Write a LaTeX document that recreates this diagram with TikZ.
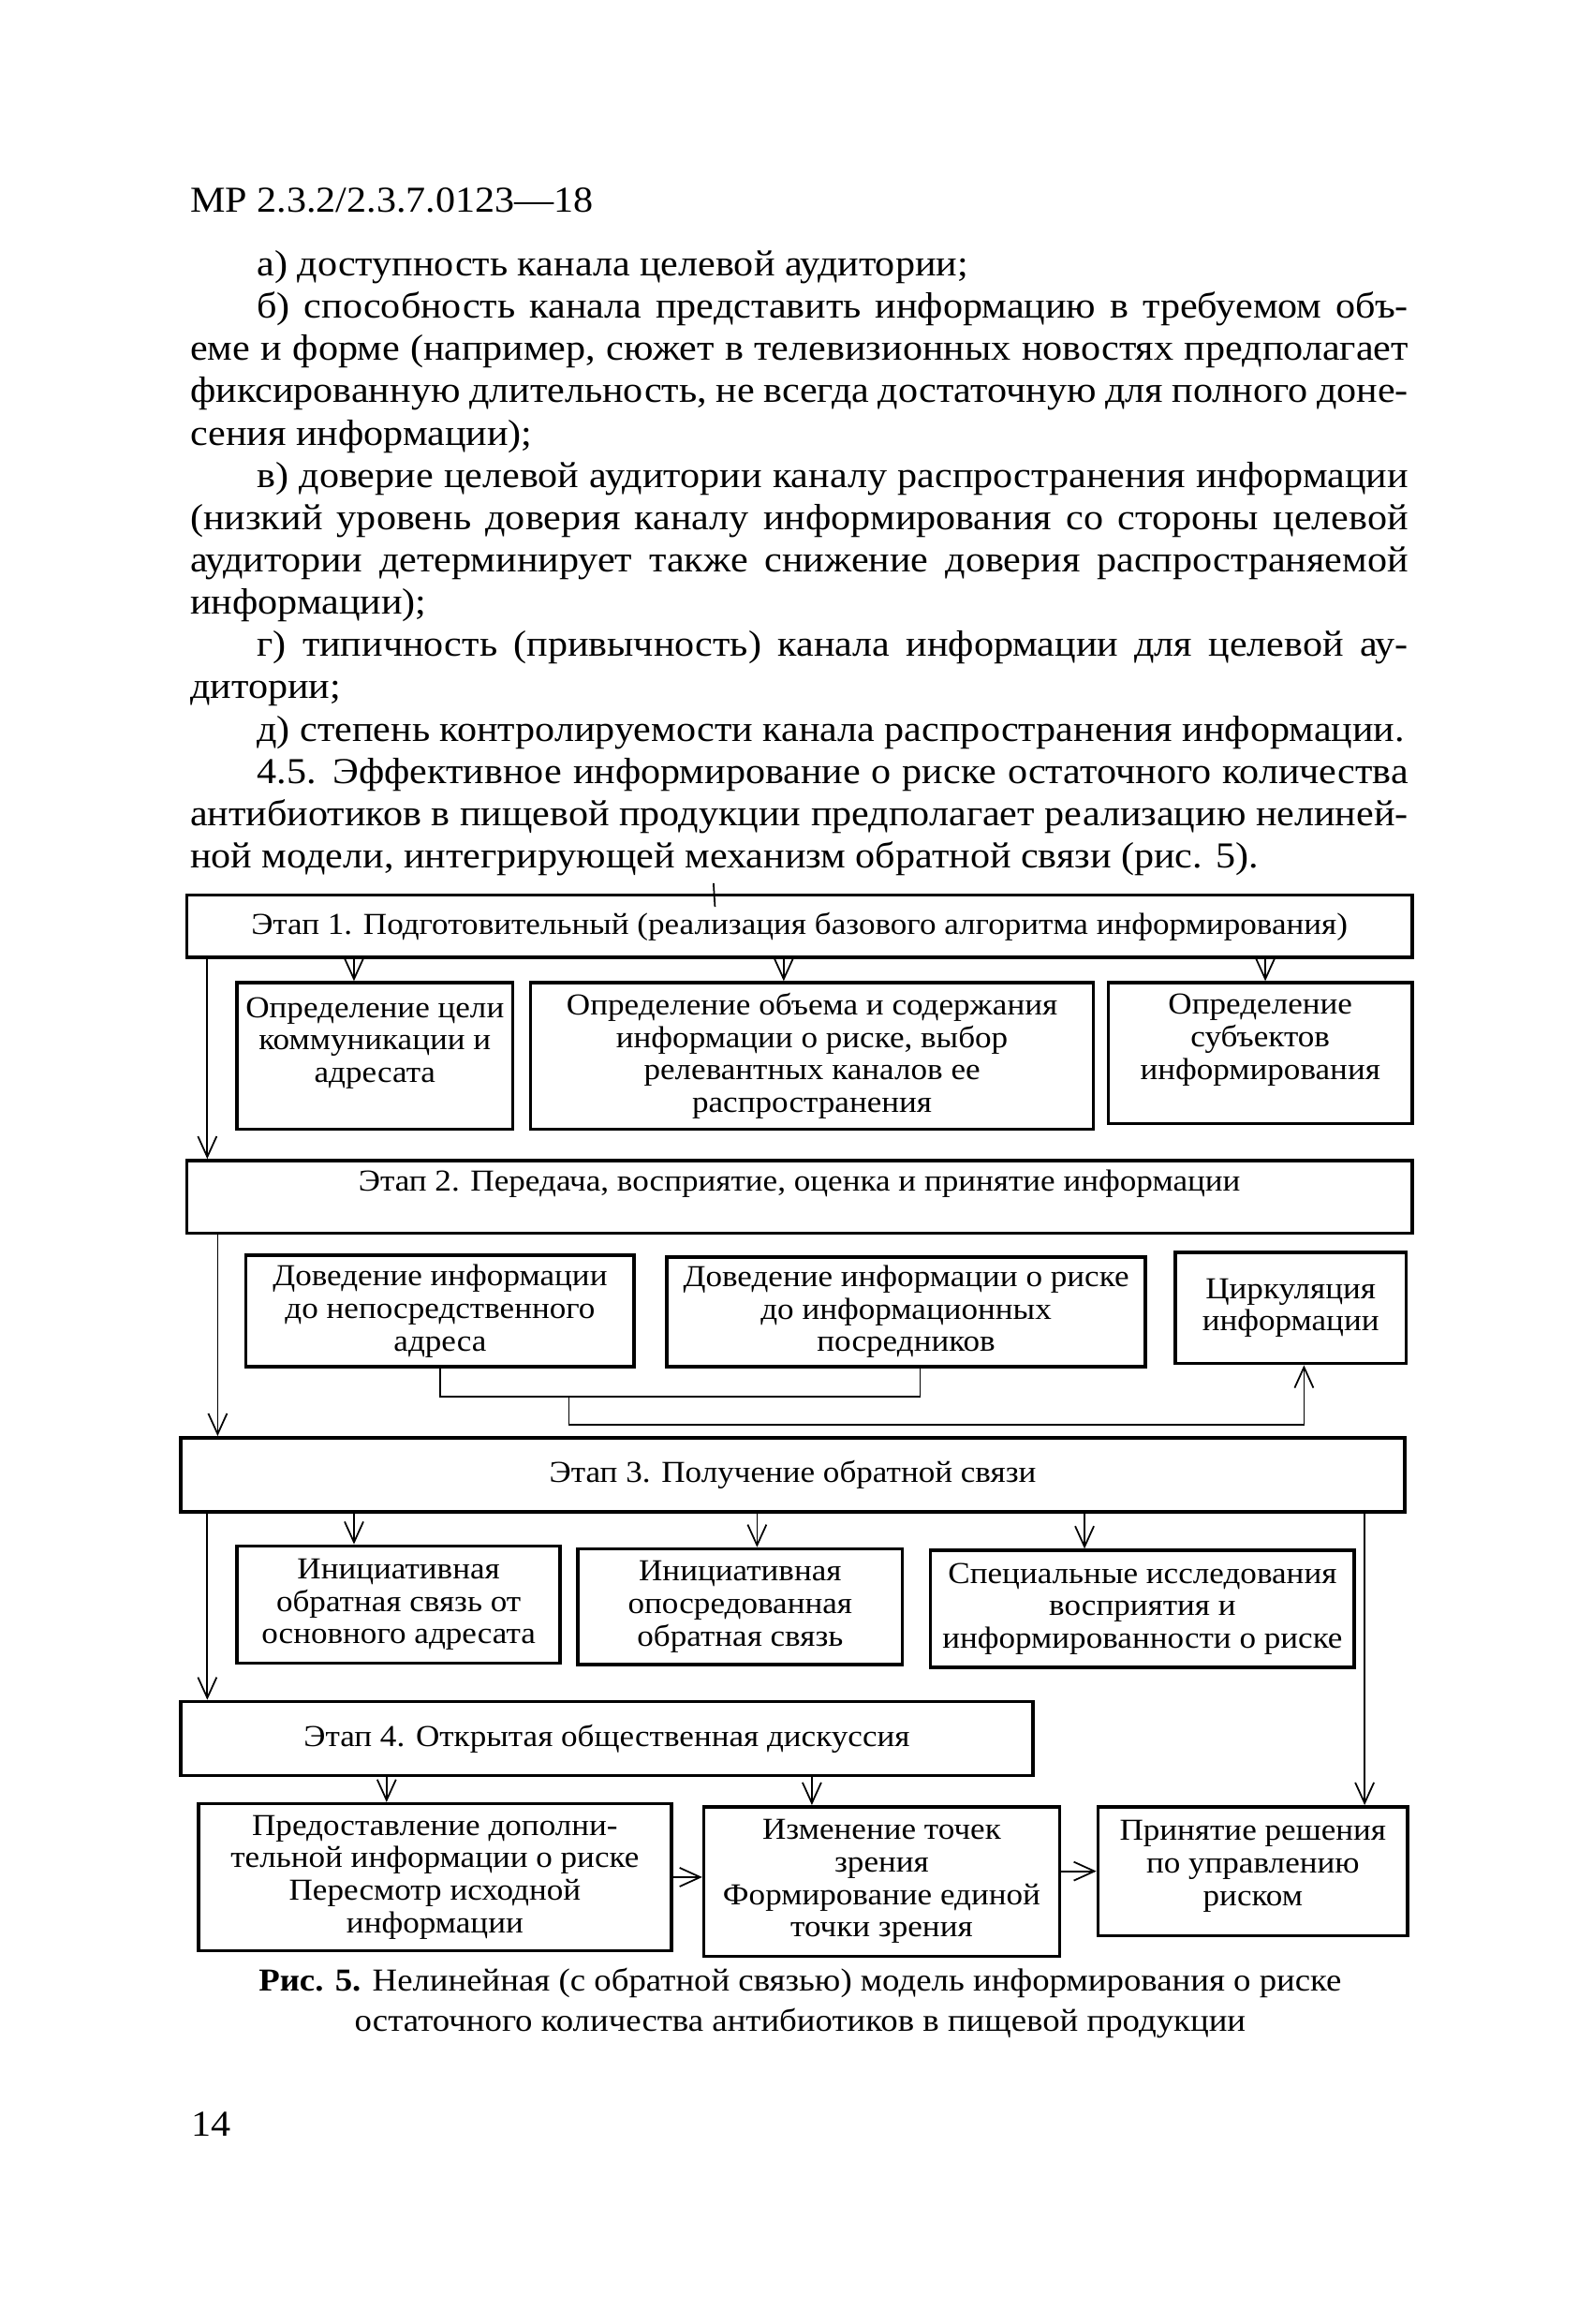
\documentclass[tikz,border=0pt]{standalone}
\usepackage{fontspec}
\setmainfont{Liberation Serif}[FakeStretch=1.08]
\usepackage{tikz}
\usetikzlibrary{arrows.meta,calc}

\newdimen\pxu \pxu=0.15823mm
\newcommand\bodyfont{\fontsize{11.1}{12.85}\selectfont}
\newcommand\boxfont{\fontsize{9.25}{9.88}\selectfont}
\newcommand\capfont{\fontsize{9.7}{12.1}\selectfont}

\begin{document}
\begin{tikzpicture}[
  x=0.15823mm, y=-0.15823mm,
  stage/.style={draw, line width=1pt, inner sep=0pt, align=center, font=\boxfont},
  sub/.style={stage},
  sz/.style 2 args={minimum width=#1\pxu, minimum height=#2\pxu},
  link/.style={line width=0.5pt},
  arr/.style={link, -{Straight Barb[length=2.2mm, width=2mm]}},
]
\fill[white] (0,0) rectangle (1075,1568);
\useasboundingbox (0,0) rectangle (1075,1568);

% page text
\node[anchor=west, inner sep=0pt, font=\bodyfont] (head) at (128,135) {МР 2.3.2/2.3.7.0123—18};
\node[anchor=north west, inner sep=0pt, text width=822\pxu, align=justify, font=\bodyfont] (body) at (128,168.5) {%
\hspace*{45\pxu}а) доступность канала целевой аудитории;\\
\hspace*{45\pxu}б) способность канала представить информацию в требуемом объ-\linebreak
еме и форме (например, сюжет в телевизионных новостях предполагает\linebreak
фиксированную длительность, не всегда достаточную для полного доне-\linebreak
сения информации);\\
\hspace*{45\pxu}в) доверие целевой аудитории каналу распространения информации\linebreak
(низкий уровень доверия каналу информирования со стороны целевой\linebreak
аудитории детерминирует также снижение доверия распространяемой\linebreak
информации);\\
\hspace*{45\pxu}г) типичность (привычность) канала информации для целевой ау-\linebreak
дитории;\\
\hspace*{45\pxu}д) степень контролируемости канала распространения информации.\\
\hspace*{45\pxu}4.5. Эффективное информирование о риске остаточного количества\linebreak
антибиотиков в пищевой продукции предполагает реализацию нелиней-\linebreak
ной модели, интегрирующей механизм обратной связи (рис. 5).};

% stages and boxes
\node[stage, sz={827}{42}] (S1) at (539.5,625)
  {Этап 1. Подготовительный (реализация базового алгоритма информирования)};
\node[sub, sz={186}{99}] (B1a) at (253,712.5)
  {Определение цели\\коммуникации и\\адресата\\\mbox{}};
\node[sub, sz={380}{99}] (B1b) at (548,712.5)
  {Определение объема и содержания\\информации о риске, выбор\\релевантных каналов ее\\распространения};
\node[sub, sz={205}{95}] (B1c) at (850.5,710.5)
  {Определение\\субъектов\\информирования\\\mbox{}};

\node[stage, sz={827}{49}] (S2) at (539.5,807.5)
  {Этап 2. Передача, восприятие, оценка и принятие информации\\\mbox{}};
\node[sub, sz={262}{75}] (B2a) at (297,884.5)
  {Доведение информации\\до непосредственного\\адреса};
\node[sub, sz={323}{74}] (B2b) at (611.5,885)
  {Доведение информации о риске\\до информационных\\посредников};
\node[sub, sz={156}{75}] (B2c) at (871,882.5)
  {Циркуляция\\информации};

\node[stage, sz={826}{50}] (S3) at (535,995)
  {Этап 3. Получение обратной связи};
\node[sub, sz={218}{79}] (B3a) at (269,1082.5)
  {Инициативная\\обратная связь от\\основного адресата};
\node[sub, sz={219}{78}] (B3b) at (499.5,1084)
  {Инициативная\\опосредованная\\обратная связь};
\node[sub, sz={286}{79}] (B3c) at (771,1085.5)
  {Специальные исследования\\восприятия и\\информированности о риске};

\node[stage, sz={575}{50}] (S4) at (409.5,1173)
  {Этап 4. Открытая общественная дискуссия};
\node[sub, sz={319}{99}] (B4a) at (293.5,1266.5)
  {Предоставление дополни-\\тельной информации о риске\\Пересмотр исходной\\информации};
\node[sub, sz={240}{101}] (B4b) at (595,1269.5)
  {Изменение точек\\зрения\\Формирование единой\\точки зрения};
\node[sub, sz={209}{87}] (B4c) at (845.5,1262.5)
  {Принятие решения\\по управлению\\риском\\[-11\pxu]\mbox{}};

% connectors
\draw[link] ($(S1.north)+(-58,-7)$) -- ($(S1.north)+(-57,9)$);
\foreach \dx/\tgt in {114/B1a, 404/B1b, 729/B1c}
  \draw[arr] ($(S1.south west)+(\dx,0)$) coordinate (t) -- (t |- \tgt.north);
\foreach \dx/\tgt in {118/B3a, 390/B3b, 611/B3c}
  \draw[arr] ($(S3.south west)+(\dx,0)$) coordinate (t) -- (t |- \tgt.north);
\foreach \dx/\tgt in {140/B4a, 427/B4b}
  \draw[arr] ($(S4.south west)+(\dx,0)$) coordinate (t) -- (t |- \tgt.north);

\draw[arr] ($(S1.south west)+(15,0)$) coordinate (l1) -- (l1 |- S2.north);
\draw[arr] ($(S2.south west)+(22,0)$) coordinate (l2) -- (l2 |- S3.north);
\draw[arr] ($(S3.south west)+(19,0)$) coordinate (l3) -- (l3 |- S4.north);
\draw[arr] ($(S3.south west)+(800,0)$) coordinate (r3) -- (r3 |- B4c.north);

\draw[link] (B2a.south) -- ++(0,19) coordinate (j1) -| ([xshift=9.5\pxu]B2b.south);
\draw[arr] ($(j1)+(87,0)$) -- ++(0,19) -| ([xshift=9\pxu]B2c.south);

\draw[arr] (B4a.east) -- (B4a.east -| B4b.west);
\draw[arr] (B4b.east |- B4c.west) -- (B4c.west);

% caption and page number
\node[font=\capfont, align=center] (cap) at (540,1351.5)
  {\textbf{Рис. 5.} Нелинейная (с обратной связью) модель информирования о риске\\остаточного количества антибиотиков в пищевой продукции};
\node[anchor=west, inner sep=0pt, font=\bodyfont] (pageno) at (129,1433) {14};
\end{tikzpicture}
\end{document}
